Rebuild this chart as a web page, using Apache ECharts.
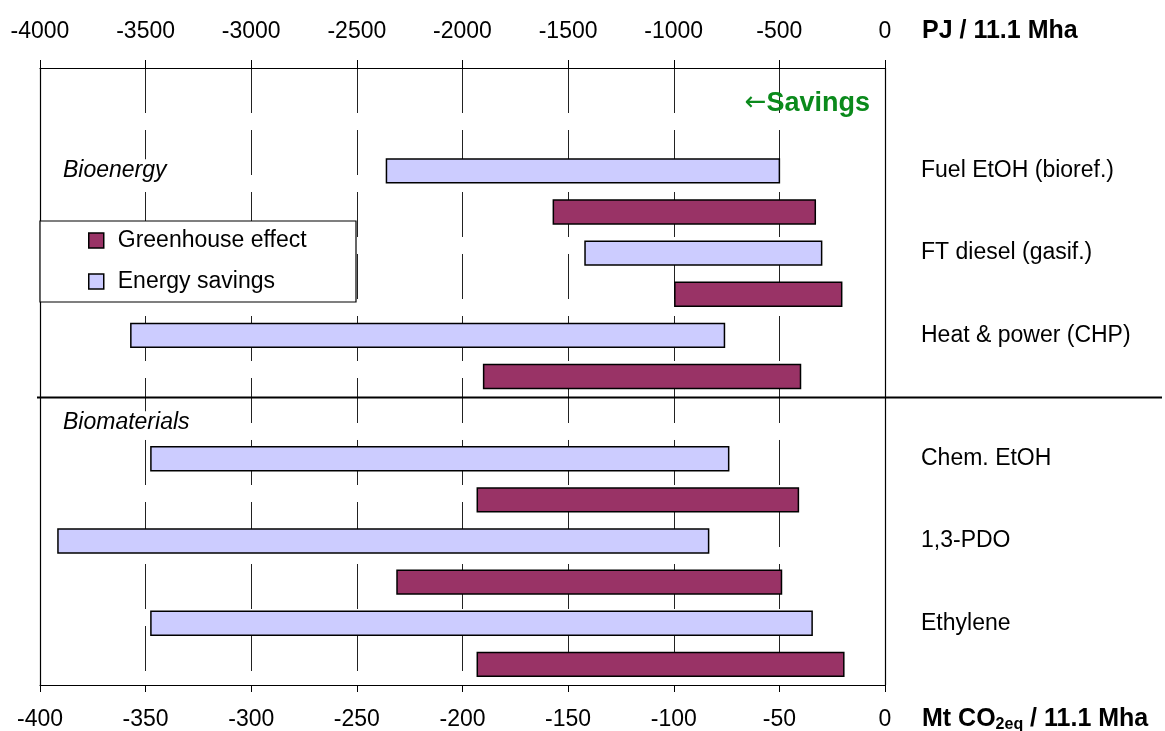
<!DOCTYPE html>
<html>
<head>
<meta charset="utf-8">
<script src="https://cdn.jsdelivr.net/npm/echarts@6/dist/echarts.min.js"></script>
<style>html,body{margin:0;padding:0;background:#fff}#c{width:1165px;height:731px}</style>
</head>
<body>
<div id="c"></div>
<script>
// ---- data ----
const categories = ['Fuel EtOH (bioref.)', 'FT diesel (gasif.)', 'Heat & power (CHP)', 'Chem. EtOH', '1,3-PDO', 'Ethylene'];
const groups = ['Bioenergy', 'Biomaterials'];
const groupOf = [0, 0, 0, 1, 1, 1];
// Energy savings, PJ / 11.1 Mha  (from, to)
const energyFrom = [-2360, -1420, -3570, -3475, -3915, -3475];
const energyTo   = [-500,  -300,  -760,  -740,  -835,  -345];
// Greenhouse effect, Mt CO2eq / 11.1 Mha (from, to)
const ghgFrom = [-157, -99.5, -190, -193, -231, -193];
const ghgTo   = [-33,  -20.5, -40,  -41,  -49,  -19.5];
const pjTicks = [-4000, 0, 500];   // min, max, interval
const mtTicks = [-400, 0, 50];

// ---- build rows: 2 header rows, then per group: pairs of rows; 1 header row for group 2 ----
const rows = ['', ''];
const energyRow = [], ghgRow = [];
let sepAfter = -1;
categories.forEach((c, i) => {
  if (i > 0 && groupOf[i] !== groupOf[i - 1]) { sepAfter = rows.length - 1; rows.push(''); }
  energyRow.push(rows.length); rows.push(c);
  ghgRow.push(rows.length); rows.push('');
});

const FONT = "'Liberation Sans', Arial, sans-serif";
const LAV = '#CCCCFF', MAR = '#993366';

function barRender(color) {
  return function (params, api) {
    const p0 = api.coord([api.value(0), api.value(2)]);
    const p1 = api.coord([api.value(1), api.value(2)]);
    const h = api.size([0, 1])[1] * 0.58;
    return {
      type: 'rect',
      shape: { x: Math.min(p0[0], p1[0]), y: p0[1] - h / 2, width: Math.abs(p1[0] - p0[0]), height: h },
      style: { fill: color, stroke: '#000', lineWidth: 1.5 }
    };
  };
}

const chart = echarts.init(document.getElementById('c'));
const option = {
  animation: false,
  backgroundColor: '#fff',
  textStyle: { fontFamily: FONT },
  grid: { left: 40, right: 280, top: 68, bottom: 46, containLabel: false },
  xAxis: [
    {
      type: 'value', position: 'top', min: pjTicks[0], max: pjTicks[1], interval: pjTicks[2],
      axisLine: { show: true, lineStyle: { color: '#000', width: 1.2 } },
      axisTick: { show: true, length: 8, lineStyle: { color: '#000' } },
      axisLabel: { color: '#000', fontSize: 23, fontFamily: FONT, margin: 25, formatter: v => String(v) },
      splitLine: { show: true, lineStyle: { color: '#222', width: 1, type: [45, 17] } }
    },
    {
      type: 'value', position: 'bottom', min: mtTicks[0], max: mtTicks[1], interval: mtTicks[2],
      axisLine: { show: true, lineStyle: { color: '#000', width: 1.2 } },
      axisTick: { show: true, length: 7, lineStyle: { color: '#000' } },
      axisLabel: { color: '#000', fontSize: 23, fontFamily: FONT, margin: 23, formatter: v => String(v) },
      splitLine: { show: false }
    }
  ],
  yAxis: [
    {
      type: 'category', data: rows, inverse: true, position: 'left',
      axisLine: { show: true, onZero: false, lineStyle: { color: '#000', width: 1.2 } },
      axisTick: { show: false }, axisLabel: { show: false }, splitLine: { show: false }
    },
    {
      type: 'category', data: rows, inverse: true, position: 'right',
      axisLine: { show: true, onZero: false, lineStyle: { color: '#000', width: 1.2 } },
      axisTick: { show: false },
      axisLabel: { show: true, color: '#000', fontSize: 23, fontFamily: FONT, margin: 36, align: 'left', interval: 0 },
      splitLine: { show: false }
    }
  ],
  legend: {
    orient: 'vertical', left: 83, top: 224, itemWidth: 15, itemHeight: 15, itemGap: 18,
    icon: 'rect',
    textStyle: { fontSize: 23, fontFamily: FONT, color: '#000', lineHeight: 23, padding: [0, 0, 0, 9] },
    data: [
      { name: 'Greenhouse effect', itemStyle: { color: MAR, borderColor: '#000', borderWidth: 1.5 } },
      { name: 'Energy savings', itemStyle: { color: LAV, borderColor: '#000', borderWidth: 1.5 } }
    ],
    z: 10
  },
  series: [
    {
      name: 'Energy savings', type: 'custom', xAxisIndex: 0, yAxisIndex: 0,
      itemStyle: { color: LAV, borderColor: '#000', borderWidth: 1.5 },
      encode: { x: [0, 1], y: 2 },
      renderItem: barRender(LAV),
      data: categories.map((c, i) => [energyFrom[i], energyTo[i], energyRow[i]]),
      z: 3
    },
    {
      name: 'Greenhouse effect', type: 'custom', xAxisIndex: 1, yAxisIndex: 0,
      itemStyle: { color: MAR, borderColor: '#000', borderWidth: 1.5 },
      encode: { x: [0, 1], y: 2 },
      renderItem: barRender(MAR),
      data: categories.map((c, i) => [ghgFrom[i], ghgTo[i], ghgRow[i]]),
      z: 3
    }
  ]
};
chart.setOption(option);

// decorations positioned through the axes
const yA = chart.convertToPixel({ yAxisIndex: 0 }, sepAfter);
const yB = chart.convertToPixel({ yAxisIndex: 0 }, sepAfter + 1);
const sepY = Math.round((yA + yB) / 2) + 0.5;
const g1Y = chart.convertToPixel({ yAxisIndex: 0 }, energyRow[0]);
const g2Y = chart.convertToPixel({ yAxisIndex: 0 }, sepAfter + 1) + 5;
const xL = chart.convertToPixel({ xAxisIndex: 0 }, pjTicks[0]);
const x0 = chart.convertToPixel({ xAxisIndex: 0 }, pjTicks[1]);

chart.setOption({
  graphic: [
    { type: 'rect', z: 5, shape: { x: xL, y: 221, width: 316, height: 81 },
      style: { fill: '#fff', stroke: '#000', lineWidth: 1.2 } },
    { type: 'line', z: 6, shape: { x1: xL - 3, y1: sepY, x2: 1162, y2: sepY },
      style: { stroke: '#000', lineWidth: 2 } },
    { type: 'text', z: 6, x: xL + 23, y: g1Y,
      style: { text: groups[0], font: 'italic 23px ' + FONT, fill: '#000', verticalAlign: 'middle', backgroundColor: '#fff' } },
    { type: 'text', z: 6, x: xL + 23, y: g2Y,
      style: { text: groups[1], font: 'italic 23px ' + FONT, fill: '#000', verticalAlign: 'middle', backgroundColor: '#fff' } },
    { type: 'text', z: 6, x: x0 - 15, y: 104,
      style: { text: '{ar|←}{t|Savings}', align: 'right', verticalAlign: 'middle',
        rich: { ar: { font: '26px "DejaVu Sans", sans-serif', fill: '#0B8A1C', padding: [0, 0, 2, 0] },
                t: { font: 'bold 27px ' + FONT, fill: '#0B8A1C' } } } },
    { type: 'text', z: 6, x: 922, y: 31,
      style: { text: 'PJ / 11.1 Mha', font: 'bold 25px ' + FONT, fill: '#000', verticalAlign: 'middle' } },
    { type: 'text', z: 6, x: 922, y: 719,
      style: { text: '{a|Mt CO}{s|2eq}{a| / 11.1 Mha}', fill: '#000', verticalAlign: 'middle',
        rich: { a: { font: 'bold 25px ' + FONT, fill: '#000' },
                s: { font: 'bold 16px ' + FONT, fill: '#000', verticalAlign: 'bottom', padding: [11, 0, 0, 0] } } } }
  ]
});
</script>
</body>
</html>
